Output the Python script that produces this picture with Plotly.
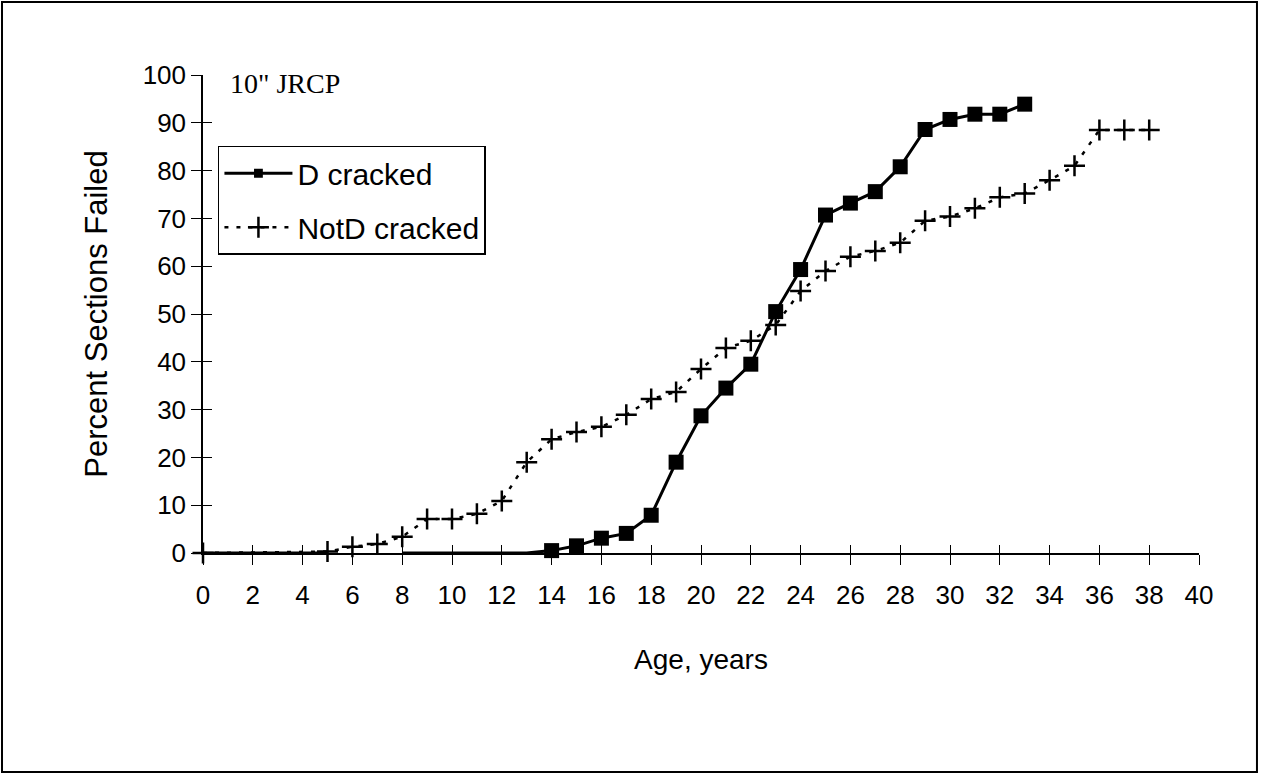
import plotly.graph_objects as go

# ---- data ----
d_years = [0, 1, 2, 3, 4, 5, 6, 7, 8, 9, 10, 11, 12, 13,
           14, 15, 16, 17, 18, 19, 20, 21, 22, 23, 24, 25, 26, 27, 28, 29, 30, 31, 32, 33]
d_pct = [0, 0, 0, 0, 0, 0, None, None, 0, 0, 0, 0, 0, 0,
         0.5, 1.5, 3.1, 4.1, 7.9, 19.0, 28.7, 34.5, 39.5, 50.5, 59.3, 70.7,
         73.2, 75.6, 80.8, 88.6, 90.7, 91.8, 91.8, 93.9]
d_marked_from = 14  # markers shown from this year on

notd_years = [0, 5, 6, 7, 8, 9, 10, 11, 12, 13, 14, 15, 16, 17, 18, 19, 20,
              21, 22, 23, 24, 25, 26, 27, 28, 29, 30, 31, 32, 33, 34, 35, 36, 37, 38]
notd_pct = [0, 0.3, 1.3, 1.9, 3.4, 7.1, 7.1, 8.2, 10.9, 19.0, 23.8, 25.3, 26.4,
            28.9, 32.2, 33.7, 38.5, 42.9, 44.4, 47.7, 54.8, 59.0, 62.0, 63.2,
            64.9, 69.5, 70.4, 72.1, 74.4, 75.2, 78.0, 81.0, 88.5, 88.5, 88.5]

x_ticks = list(range(0, 41, 2))
y_ticks = list(range(0, 101, 10))

FONT = "Liberation Sans"

fig = go.Figure()

fig.add_trace(go.Scatter(
    x=d_years, y=d_pct, name="D cracked", mode="lines+markers", legendgroup="d",
    line=dict(color="black", width=3),
    marker=dict(symbol="square", color="black", opacity=1,
                size=[15 if yr >= d_marked_from else 0 for yr in d_years],
                line=dict(width=0)),
    connectgaps=False, cliponaxis=False,
))

fig.add_trace(go.Scatter(
    x=notd_years, y=notd_pct, name="NotD cracked", mode="lines+markers", legendgroup="n",
    line=dict(color="black", width=2.5, dash="4px,8px"),
    marker=dict(symbol="cross-thin", size=15, color="black", opacity=1,
                line=dict(color="black", width=2.5)),
    cliponaxis=False,
))

# helper trace so the overlay axes (inner half of crossing ticks) are drawn
fig.add_trace(go.Scatter(x=[None], y=[None], xaxis="x2", yaxis="y2",
                         showlegend=False, hoverinfo="skip"))

fig.update_layout(
    width=1261, height=774,
    margin=dict(l=203, r=62, t=75, b=221),
    paper_bgcolor="white", plot_bgcolor="white",
    font=dict(family=FONT, color="black"),
    showlegend=True,
    legend=dict(
        x=0.015, y=0.852, xanchor="left", yanchor="top",
        bordercolor="black", borderwidth=1.5, bgcolor="white",
        font=dict(family=FONT, size=30, color="black"),
        itemwidth=68, tracegroupgap=12, traceorder="grouped",
    ),
    xaxis=dict(
        range=[0, 40], tickmode="array", tickvals=x_ticks,
        ticks="outside", ticklen=10, tickwidth=1, tickcolor="black",
        showline=True, linecolor="black", linewidth=1.5,
        showgrid=False, zeroline=False,
        tickfont=dict(family=FONT, size=26, color="black"),
        ticklabelstandoff=8,
        title=dict(text="Age, years", font=dict(family=FONT, size=28, color="black"),
                   standoff=40),
    ),
    yaxis=dict(
        range=[0, 100], tickmode="array", tickvals=y_ticks,
        ticks="outside", ticklen=10, tickwidth=1, tickcolor="black",
        showline=True, linecolor="black", linewidth=1.5,
        showgrid=False, zeroline=False,
        tickfont=dict(family=FONT, size=26, color="black"),
        ticklabelstandoff=0,
        title=dict(text="Percent Sections Failed",
                   font=dict(family=FONT, size=31, color="black"), standoff=26),
    ),
    xaxis2=dict(
        overlaying="x", anchor="y2", range=[0, 40], tickmode="array", tickvals=x_ticks,
        ticks="inside", ticklen=8, tickwidth=1, tickcolor="black",
        showticklabels=False, showline=False, showgrid=False, zeroline=False,
    ),
    yaxis2=dict(
        overlaying="y", anchor="x2", range=[0, 100], tickmode="array", tickvals=y_ticks,
        ticks="inside", ticklen=9, tickwidth=1, tickcolor="black",
        showticklabels=False, showline=False, showgrid=False, zeroline=False,
    ),
    annotations=[dict(
        text="10\" JRCP", xref="paper", yref="paper", x=0.025, y=0.983,
        xanchor="left", yanchor="middle", showarrow=False,
        font=dict(family="Liberation Serif", size=28, color="black"),
    )],
    shapes=[dict(
        type="rect", xref="paper", yref="paper",
        x0=-0.2018, x1=1.0582, y0=-0.458, y1=1.1527,
        line=dict(color="black", width=2), layer="below",
    )],
)

fig.write_html("out.html", config={"displayModeBar": False},
               post_script="document.body.style.margin='0';")
